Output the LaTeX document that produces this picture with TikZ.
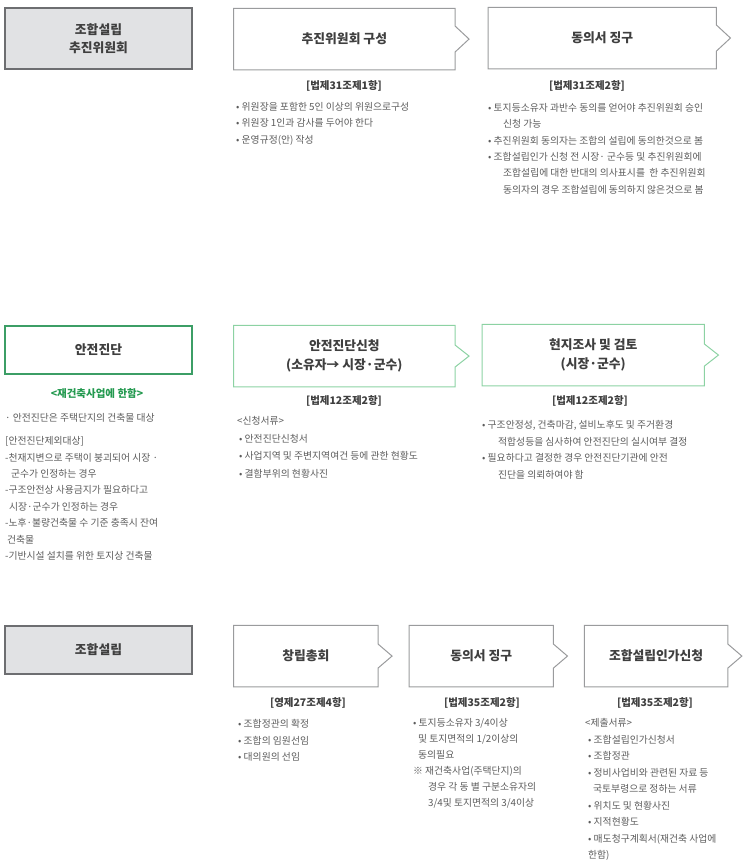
\documentclass[tikz,border=0pt]{standalone}
\usepackage{fontspec}
\setmainfont{Noto Sans CJK KR}
\usetikzlibrary{positioning}
\definecolor{titleColor}{HTML}{3F3F3F}
\definecolor{bodyColor}{HTML}{5C5C5C}
\definecolor{frameGray}{HTML}{9A9B9D}
\definecolor{darkGray}{HTML}{6D6E71}
\definecolor{fillGray}{HTML}{E1E2E4}
\definecolor{frameGreen}{HTML}{8CD2A3}
\definecolor{darkGreen}{HTML}{3C9E66}
\definecolor{noteGreen}{HTML}{23994F}
\newcommand{\titlefont}{\fontsize{12.8}{18.5}\selectfont\bfseries}
\newcommand{\lawfont}{\fontsize{10.5}{12}\selectfont\bfseries}
\newcommand{\bodyfont}{\fontsize{9.8}{16.4}\selectfont}
\tikzstyle{stage} = [rectangle, minimum width=187pt, align=center, draw=darkGray, fill=fillGray, line width=1.3pt, text=titleColor, font=\titlefont]
\tikzstyle{safety} = [stage, draw=darkGreen, fill=white]
\tikzstyle{stepbox} = [rectangle, minimum height=61pt, align=center, inner sep=0pt, text=titleColor, font=\titlefont]
\tikzstyle{law} = [inner sep=0pt, text=titleColor, font=\lawfont]
\tikzstyle{note} = [anchor=north west, align=left, inner sep=0pt, text=bodyColor, font=\bodyfont]
\tikzstyle{frame} = [line width=1pt, line join=miter]

\begin{document}
\begin{tikzpicture}[x=1pt, y=-1pt]
    \useasboundingbox (0,0) rectangle (743,862);

    \node (b11) [stage, minimum height=61pt] at (98.5,38.5) {조합설립\\추진위원회};
    \node (b12) [stepbox, minimum width=221pt, right=41pt of b11.north east, anchor=north west, yshift=-1pt] {추진위원회 구성};
    \node (b13) [stepbox, minimum width=228pt, right=33pt of b12.north east, anchor=north west, yshift=1pt] {동의서 징구};

    \node (b21) [safety, minimum height=48pt] at (98.5,350) {안전진단};
    \node (b22) [stepbox, minimum width=221pt, right=41pt of b21.north east, anchor=north west] {안전진단신청\\(소유자→ 시장·군수)};
    \node (b23) [stepbox, minimum width=222pt, right=27pt of b22.north east, anchor=north west, yshift=1pt] {현지조사 및 검토\\(시장·군수)};

    \node (b31) [stage, minimum height=48pt] at (98.5,650) {조합설립};
    \node (b32) [stepbox, minimum width=144pt, right=41pt of b31.north east, anchor=north west] {\raisebox{-4pt}{창립총회}};
    \node (b33) [stepbox, minimum width=144pt, right=31pt of b32.north east, anchor=north west] {\raisebox{-4pt}{동의서 징구}};
    \node (b34) [stepbox, minimum width=143pt, right=31pt of b33.north east, anchor=north west] {\raisebox{-4pt}{조합설립인가신청}};

    \foreach \n/\c/\h in {b12/frameGray/13, b13/frameGray/13, b22/frameGreen/11, b23/frameGreen/11, b32/frameGray/12, b33/frameGray/12, b34/frameGray/12}
        \draw [frame, \c] (\n.north west) -- (\n.north east) -- ([yshift=\h pt]\n.east) -- ([xshift=14pt]\n.east) -- ([yshift=-\h pt]\n.east) -- (\n.south east) -- (\n.south west) -- cycle;

    \node (l12) [law] at (344,86) {[법제31조제1항]};
    \node (l13) [law] at (587,86) {[법제31조제2항]};
    \node (l21) [law, text=noteGreen] at (97,394) {<재건축사업에 한함>};
    \node (l22) [law] at (344,401) {[법제12조제2항]};
    \node (l23) [law] at (590,401) {[법제12조제2항]};
    \node (l32) [law] at (308,703) {[영제27조제4항]};
    \node (l33) [law] at (482,703) {[법제35조제2항]};
    \node (l34) [law] at (655,703) {[법제35조제2항]};

    \node (t12) [note] at (236,102) {• 위원장을 포함한 5인 이상의 위원으로구성\\• 위원장 1인과 감사를 두어야 한다\\• 운영규정(안) 작성};
    \node (t13) [note] at (488,103) {• 토지등소유자 과반수 동의를 얻어야 추진위원회 승인\\\hspace*{15pt}신청 가능\\• 추진위원회 동의자는 조합의 설립에 동의한것으로 봄\\• 조합설립인가 신청 전 시장· 군수등 및 추진위원회에\\\hspace*{15pt}조합설립에 대한 반대의 의사표시를 \ 한 추진위원회\\\hspace*{15pt}동의자의 경우 조합설립에 동의하지 않은것으로 봄};
    \node (t21) [note] at (5,413.5) {· 안전진단은 주택단지의 건축물 대상\\[6.5pt][안전진단제외대상]\\-천재지변으로 주택이 붕괴되어 시장 ·\\\hspace*{6pt}군수가 인정하는 경우\\-구조안전상 사용금지가 필요하다고\\\hspace*{4pt}시장·군수가 인정하는 경우\\-노후·불량건축물 수 기준 충족시 잔여\\\hspace*{2pt}건축물\\-기반시설 설치를 위한 토지상 건축물};
    \node (t22) [note, font=\fontsize{9.8}{17.4}\selectfont] at (237,416.5) {<신청서류>\\\hspace*{2pt}• 안전진단신청서\\\hspace*{2pt}• 사업지역 및 주변지역여건 등에 관한 현황도\\\hspace*{2pt}• 결함부위의 현황사진};
    \node (t23) [note] at (482,420.5) {• 구조안정성, 건축마감, 설비노후도 및 주거환경\\\hspace*{16pt}적합성등을 심사하여 안전진단의 실시여부 결정\\• 필요하다고 결정한 경우 안전진단기관에 안전\\\hspace*{16pt}진단을 의뢰하여야 함};
    \node (t32) [note] at (238,719.5) {• 조합정관의 확정\\• 조합의 임원선임\\• 대의원의 선임};
    \node (t33) [note, font=\fontsize{9.8}{16}\selectfont] at (413,718.5) {• 토지등소유자 3/4이상\\\hspace*{5pt}및 토지면적의 1/2이상의\\\hspace*{5pt}동의필요\\※ 재건축사업(주택단지)의\\\hspace*{15pt}경우 각 동 별 구분소유자의\\\hspace*{15pt}3/4및 토지면적의 3/4이상};
    \node (t34) [note, font=\fontsize{9.8}{16.5}\selectfont] at (585,718.5) {<제출서류>\\\hspace*{3pt}• 조합설립인가신청서\\\hspace*{3pt}• 조합정관\\\hspace*{3pt}• 정비사업비와 관련된 자료 등\\\hspace*{8pt}국토부령으로 정하는 서류\\\hspace*{3pt}• 위치도 및 현황사진\\\hspace*{3pt}• 지적현황도\\\hspace*{3pt}• 매도청구계획서(재건축 사업에\\\hspace*{3pt}한함)};
\end{tikzpicture}
\end{document}
